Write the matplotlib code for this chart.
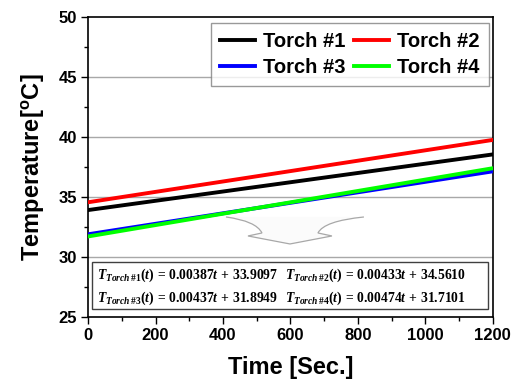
import matplotlib
matplotlib.use("Agg")
import matplotlib.pyplot as plt
from matplotlib.path import Path
from matplotlib.patches import PathPatch, Rectangle

plt.rcParams['font.family'] = ['Liberation Sans', 'DejaVu Sans']
plt.rcParams['mathtext.fontset'] = 'custom'
plt.rcParams['mathtext.rm'] = 'Liberation Serif:bold'
plt.rcParams['mathtext.it'] = 'Liberation Serif:bold:italic'
plt.rcParams['mathtext.bf'] = 'Liberation Serif:bold'

# Data (end points, time in seconds)
time = [0, 1200]
torch1 = [33.91, 38.55]
torch2 = [34.56, 39.76]
torch3 = [31.89, 37.14]
torch4 = [31.71, 37.40]
labels = ["Torch #1", "Torch #2", "Torch #3", "Torch #4"]
colors = ["#000000", "#ff0000", "#0000ff", "#00ff00"]
equations = [
    r"$T_{Torch\,\#1}(t)\,=\,0.00387t\,+\,33.9097$",
    r"$T_{Torch\,\#2}(t)\,=\,0.00433t\,+\,34.5610$",
    r"$T_{Torch\,\#3}(t)\,=\,0.00437t\,+\,31.8949$",
    r"$T_{Torch\,\#4}(t)\,=\,0.00474t\,+\,31.7101$",
]

fig = plt.figure(figsize=(5.15, 3.8), dpi=100)
ax = fig.add_axes([0.171, 0.166, 0.786, 0.789])

handles = []
for y, lab, c in zip([torch1, torch2, torch3, torch4], labels, colors):
    h, = ax.plot(time, y, color=c, lw=2.8, label=lab, zorder=3)
    handles.append(h)

ax.set_xlim(0, 1200)
ax.set_ylim(25, 50)
ax.set_xticks(range(0, 1201, 200))
ax.set_yticks(range(25, 51, 5))
ax.set_xticks(range(100, 1200, 200), minor=True)
ax.set_yticks([27.5, 32.5, 37.5, 42.5, 47.5], minor=True)
for yg in [30, 35, 40, 45]:
    ax.axhline(yg, color="#a8a8a8", lw=1.0, zorder=1)
ax.tick_params(axis='both', which='major', direction='out', length=5, width=1,
               labelsize=12, pad=3)
ax.tick_params(axis='both', which='minor', direction='out', length=3, width=1)
for lab in ax.get_xticklabels() + ax.get_yticklabels():
    lab.set_fontweight('bold')
for s in ax.spines.values():
    s.set_linewidth(1.2)

ax.set_xlabel("Time [Sec.]", fontsize=17, fontweight='bold', labelpad=9)
ax.set_ylabel(r"Temperature[$\mathregular{^{o}}$C]", fontsize=17, fontweight='bold', labelpad=8)

order = [0, 2, 1, 3]
leg = ax.legend([handles[i] for i in order], [labels[i] for i in order],
                ncol=2, loc='upper right', bbox_to_anchor=(0.99, 0.98),
                prop={'weight': 'bold', 'size': 14.5}, frameon=True, fancybox=False,
                handlelength=1.75, columnspacing=0.4, handletextpad=0.4,
                borderpad=0.45, labelspacing=0.35, borderaxespad=0)
leg.get_frame().set_edgecolor('#808080')
leg.get_frame().set_linewidth(1.0)

# decorative curved arrow (axes fraction coords)
def fx(px):
    return (px - 88) / 405.0

def fy(py):
    return (317 - py) / 300.0

verts = [(fx(226), fy(217)), (fx(256), fy(221)), (fx(262), fy(233)),
         (fx(248), fy(236)), (fx(290), fy(244)), (fx(332), fy(236)),
         (fx(318), fy(233)), (fx(324), fy(221)), (fx(364), fy(217))]
codes = [Path.MOVETO, Path.CURVE3, Path.CURVE3,
         Path.LINETO, Path.LINETO, Path.LINETO,
         Path.LINETO, Path.CURVE3, Path.CURVE3]
arrow = PathPatch(Path(verts, codes), transform=ax.transAxes, facecolor='#fbfbfb',
                  edgecolor='#a8a8a8', lw=0.9, zorder=2)
ax.add_patch(arrow)

# equation box
box = Rectangle((fx(92), fy(309)), fx(488) - fx(92), fy(262) - fy(309),
                transform=ax.transAxes, facecolor='white', edgecolor='#404040',
                lw=1.0, zorder=4)
ax.add_patch(box)
pos = [(97, 275), (285, 275), (97, 298), (285, 298)]
for (px, py), eq in zip(pos, equations):
    ax.text(fx(px), fy(py), eq, transform=ax.transAxes, fontsize=9.8,
            ha='left', va='center', zorder=5)

fig.savefig("out.png", dpi=100)
